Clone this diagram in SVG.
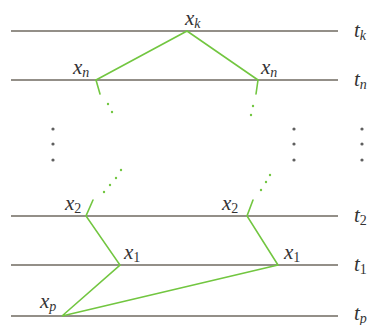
<svg xmlns="http://www.w3.org/2000/svg" width="376" height="325" viewBox="0 0 376 325">
<style>
.ln{stroke:#6f6a60;stroke-width:1.6;fill:none}
.g{stroke:#72c640;stroke-width:1.6;fill:none;stroke-linecap:round}
.gd{fill:#72c640}
.bd{fill:#5f5f5f}
text{font-family:"Liberation Serif","DejaVu Serif",serif;font-size:21px;fill:#333}
.it{font-style:italic}
.sub{font-size:14px}
</style>
<rect width="376" height="325" fill="#fff"/>
<g id="levels">
<line class="ln" x1="11" y1="31" x2="338" y2="31"/>
<line class="ln" x1="11" y1="80" x2="338" y2="80"/>
<line class="ln" x1="11" y1="216" x2="338" y2="216"/>
<line class="ln" x1="11" y1="265" x2="338" y2="265"/>
<line class="ln" x1="11" y1="316" x2="338" y2="316"/>
</g>
<g id="connectors">
<polyline class="g" points="96,80 187,31 258,80"/>
<line class="g" x1="96" y1="80" x2="100" y2="94"/>
<line class="g" x1="258" y1="80" x2="256" y2="94"/>
<circle class="gd" cx="108" cy="104" r="1.2"/>
<circle class="gd" cx="112" cy="112" r="1.2"/>
<circle class="gd" cx="253" cy="106" r="1.2"/>
<circle class="gd" cx="251" cy="115" r="1.2"/>
<polyline class="g" points="93,200 86,216 120,265 62,316 278,265 247,216 253,200"/>
<circle class="gd" cx="104" cy="192" r="1.2"/>
<circle class="gd" cx="110" cy="185" r="1.2"/>
<circle class="gd" cx="116" cy="178" r="1.2"/>
<circle class="gd" cx="121" cy="170" r="1.2"/>
<circle class="gd" cx="261" cy="190" r="1.2"/>
<circle class="gd" cx="266" cy="182" r="1.2"/>
<circle class="gd" cx="270" cy="175" r="1.2"/>
</g>
<g id="vdots">
<circle class="bd" cx="53" cy="129" r="1.6"/>
<circle class="bd" cx="53" cy="144" r="1.6"/>
<circle class="bd" cx="53" cy="160" r="1.6"/>
<circle class="bd" cx="294" cy="129" r="1.6"/>
<circle class="bd" cx="294" cy="144" r="1.6"/>
<circle class="bd" cx="294" cy="160" r="1.6"/>
<circle class="bd" cx="362" cy="129" r="1.6"/>
<circle class="bd" cx="362" cy="144" r="1.6"/>
<circle class="bd" cx="362" cy="160" r="1.6"/>
</g>
<g id="node-xk"><text x="185" y="25" class="it">x<tspan class="sub" dy="3">k</tspan></text></g>
<g id="node-xn-left"><text x="73" y="74" class="it">x<tspan class="sub" dy="3">n</tspan></text></g>
<g id="node-xn-right"><text x="261" y="74" class="it">x<tspan class="sub" dy="3">n</tspan></text></g>
<g id="node-x2-left"><text x="65" y="210" class="it">x<tspan class="sub" dy="3" font-style="normal">2</tspan></text></g>
<g id="node-x2-right"><text x="222" y="210" class="it">x<tspan class="sub" dy="3" font-style="normal">2</tspan></text></g>
<g id="node-x1-left"><text x="124" y="259" class="it">x<tspan class="sub" dy="3" font-style="normal">1</tspan></text></g>
<g id="node-x1-right"><text x="284" y="259" class="it">x<tspan class="sub" dy="3" font-style="normal">1</tspan></text></g>
<g id="node-xp"><text x="40" y="308" class="it">x<tspan class="sub" dy="3">p</tspan></text></g>
<g id="label-tk"><text x="354" y="37" class="it">t<tspan class="sub" dy="3">k</tspan></text></g>
<g id="label-tn"><text x="354" y="86" class="it">t<tspan class="sub" dy="3">n</tspan></text></g>
<g id="label-t2"><text x="354" y="222" class="it">t<tspan class="sub" dy="3" font-style="normal">2</tspan></text></g>
<g id="label-t1"><text x="354" y="271" class="it">t<tspan class="sub" dy="3" font-style="normal">1</tspan></text></g>
<g id="label-tp"><text x="354" y="320" class="it">t<tspan class="sub" dy="3">p</tspan></text></g>
</svg>
